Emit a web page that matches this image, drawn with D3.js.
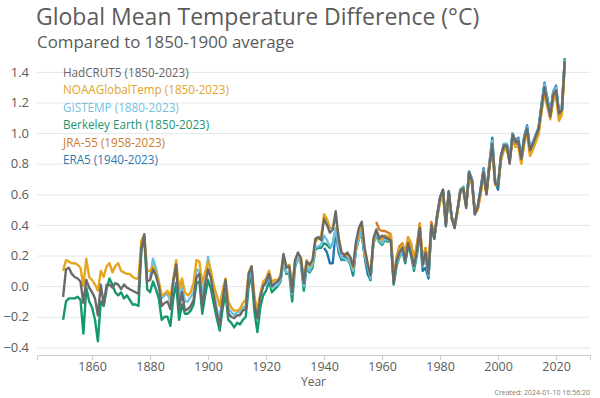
<!DOCTYPE html>
<html>
<head>
<meta charset="utf-8">
<script src="https://cdn.jsdelivr.net/npm/d3@7"></script>
<style>
  body { margin: 0; background: #fff; }
  text { font-family: "Open Sans", sans-serif; }
</style>
</head>
<body>
<div id="chart"></div>
<script>
// annual anomalies vs 1850-1900, degrees C
const hadcrut5Start = 1850;
const hadcrut5 = [
  -0.07, 0.11, 0.12, 0.08, 0.06, 0.05, 0.03, -0.11, 0.04, -0.01,
  -0.04, -0.08, -0.19, 0.01, -0.12, 0.01, 0.01, -0.01, 0.02, 0.01,
  -0.02, 0.01, -0.01, -0.02, -0.03, -0.04, -0.05, 0.25, 0.34, 0.03,
  0.04, 0.11, 0.07, 0.00, -0.13, -0.11, -0.10, -0.15, 0.03, 0.14,
  -0.15, -0.04, -0.16, -0.15, -0.13, -0.09, 0.06, 0.08, -0.14, 0.01,
  0.11, 0.05, -0.07, -0.18, -0.25, -0.10, 0.04, -0.18, -0.20, -0.21,
  -0.19, -0.19, -0.16, -0.15, 0.08, 0.13, -0.12, -0.21, -0.07, 0.00,
  0.03, 0.08, 0.00, 0.02, 0.03, 0.06, 0.21, 0.12, 0.13, -0.04,
  0.17, 0.22, 0.18, 0.02, 0.16, 0.14, 0.17, 0.31, 0.32, 0.30,
  0.44, 0.40, 0.35, 0.37, 0.49, 0.31, 0.22, 0.20, 0.22, 0.19,
  0.13, 0.29, 0.38, 0.42, 0.25, 0.15, 0.07, 0.31, 0.37, 0.31,
  0.33, 0.32, 0.31, 0.30, 0.02, 0.16, 0.22, 0.25, 0.17, 0.28,
  0.21, 0.13, 0.23, 0.38, 0.14, 0.22, 0.08, 0.40, 0.31, 0.46,
  0.58, 0.63, 0.39, 0.62, 0.45, 0.38, 0.50, 0.62, 0.64, 0.51,
  0.74, 0.69, 0.47, 0.52, 0.63, 0.75, 0.60, 0.78, 0.93, 0.67,
  0.66, 0.85, 0.92, 0.92, 0.80, 0.99, 0.94, 0.95, 0.83, 0.96,
  1.03, 0.89, 0.93, 0.98, 1.03, 1.17, 1.30, 1.20, 1.11, 1.25,
  1.28, 1.13, 1.15, 1.47
];

const noaaStart = 1850;
const noaa = [
  0.10, 0.17, 0.16, 0.15, 0.15, 0.14, 0.12, 0.00, 0.18, 0.06,
  0.04, 0.01, -0.03, 0.10, 0.06, 0.13, 0.15, 0.09, 0.13, 0.15,
  0.10, 0.09, 0.08, 0.08, 0.06, 0.05, 0.05, 0.30, 0.33, 0.10,
  0.10, 0.13, 0.09, 0.03, -0.06, -0.05, -0.03, -0.07, 0.05, 0.17,
  -0.02, 0.05, -0.04, -0.06, -0.04, 0.02, 0.17, 0.16, 0.02, 0.09,
  0.16, 0.10, 0.00, -0.06, -0.13, -0.03, 0.05, -0.10, -0.14, -0.16,
  -0.16, -0.15, -0.11, -0.09, 0.09, 0.13, -0.07, -0.16, -0.05, 0.03,
  0.05, 0.10, 0.03, 0.04, 0.04, 0.07, 0.20, 0.13, 0.14, 0.00,
  0.17, 0.21, 0.19, 0.05, 0.17, 0.13, 0.16, 0.29, 0.31, 0.33,
  0.47, 0.44, 0.38, 0.38, 0.45, 0.33, 0.22, 0.21, 0.20, 0.19,
  0.12, 0.27, 0.35, 0.40, 0.22, 0.15, 0.08, 0.29, 0.36, 0.32,
  0.30, 0.33, 0.32, 0.34, 0.05, 0.17, 0.24, 0.27, 0.20, 0.32,
  0.27, 0.16, 0.26, 0.40, 0.18, 0.24, 0.12, 0.40, 0.33, 0.45,
  0.55, 0.60, 0.42, 0.60, 0.44, 0.40, 0.48, 0.62, 0.64, 0.53,
  0.71, 0.67, 0.48, 0.50, 0.60, 0.72, 0.60, 0.79, 0.90, 0.66,
  0.66, 0.82, 0.89, 0.89, 0.83, 0.95, 0.91, 0.91, 0.80, 0.93,
  1.00, 0.85, 0.89, 0.94, 0.99, 1.14, 1.26, 1.17, 1.09, 1.21,
  1.24, 1.08, 1.12, 1.44
];

const gistempStart = 1880;
const gistemp = [
  0.05, 0.18, 0.12, 0.03, -0.08, -0.06, -0.05, -0.10, 0.02, 0.12,
  -0.09, 0.01, -0.10, -0.10, -0.07, -0.04, 0.11, 0.10, -0.05, 0.05,
  0.19, 0.08, -0.03, -0.15, -0.21, -0.08, 0.01, -0.15, -0.17, -0.19,
  -0.17, -0.17, -0.14, -0.13, 0.05, 0.10, -0.10, -0.18, -0.07, 0.00,
  0.01, 0.07, -0.01, 0.00, 0.01, 0.04, 0.17, 0.09, 0.09, -0.05,
  0.14, 0.18, 0.15, 0.00, 0.13, 0.10, 0.14, 0.25, 0.26, 0.27,
  0.33, 0.30, 0.26, 0.27, 0.38, 0.25, 0.19, 0.18, 0.17, 0.16,
  0.10, 0.24, 0.31, 0.36, 0.20, 0.13, 0.05, 0.28, 0.34, 0.30,
  0.28, 0.31, 0.30, 0.31, 0.03, 0.14, 0.20, 0.23, 0.17, 0.28,
  0.23, 0.12, 0.22, 0.37, 0.13, 0.19, 0.07, 0.39, 0.31, 0.45,
  0.57, 0.62, 0.40, 0.60, 0.44, 0.39, 0.50, 0.62, 0.65, 0.53,
  0.74, 0.70, 0.47, 0.51, 0.62, 0.76, 0.61, 0.80, 0.95, 0.68,
  0.67, 0.85, 0.93, 0.93, 0.84, 1.00, 0.94, 0.96, 0.83, 0.97,
  1.04, 0.90, 0.94, 0.99, 1.04, 1.18, 1.32, 1.22, 1.12, 1.26,
  1.30, 1.13, 1.17, 1.48
];

const berkeleyStart = 1850;
const berkeley = [
  -0.22, -0.10, -0.08, -0.08, -0.08, -0.07, -0.09, -0.31, -0.01, -0.10,
  -0.14, -0.22, -0.36, -0.10, -0.13, -0.02, 0.05, 0.01, -0.04, -0.06,
  -0.04, -0.08, -0.06, -0.09, -0.12, -0.12, -0.13, 0.24, 0.31, -0.02,
  -0.04, 0.03, -0.02, -0.08, -0.22, -0.20, -0.20, -0.26, -0.08, 0.02,
  -0.22, -0.12, -0.18, -0.18, -0.16, -0.12, 0.02, 0.03, -0.18, -0.06,
  0.04, -0.02, -0.12, -0.21, -0.29, -0.15, -0.05, -0.22, -0.24, -0.27,
  -0.24, -0.25, -0.22, -0.20, 0.00, 0.06, -0.17, -0.30, -0.14, -0.06,
  -0.03, 0.03, -0.04, -0.02, 0.00, 0.03, 0.16, 0.08, 0.08, -0.10,
  0.13, 0.18, 0.15, -0.03, 0.12, 0.09, 0.12, 0.24, 0.25, 0.25,
  0.28, 0.27, 0.25, 0.28, 0.37, 0.26, 0.18, 0.17, 0.18, 0.15,
  0.08, 0.24, 0.32, 0.36, 0.20, 0.12, 0.04, 0.28, 0.33, 0.29,
  0.27, 0.30, 0.29, 0.31, 0.01, 0.13, 0.19, 0.23, 0.15, 0.27,
  0.20, 0.10, 0.20, 0.36, 0.13, 0.20, 0.07, 0.38, 0.31, 0.45,
  0.57, 0.62, 0.41, 0.61, 0.45, 0.40, 0.50, 0.63, 0.65, 0.53,
  0.74, 0.69, 0.48, 0.52, 0.63, 0.75, 0.61, 0.79, 0.93, 0.68,
  0.67, 0.85, 0.92, 0.92, 0.83, 0.99, 0.94, 0.95, 0.83, 0.96,
  1.03, 0.89, 0.93, 0.98, 1.04, 1.18, 1.31, 1.21, 1.12, 1.26,
  1.29, 1.13, 1.16, 1.49
];

const jra55Start = 1958;
const jra55 = [
  0.42, 0.37,
  0.36, 0.36, 0.35, 0.34, 0.06, 0.19, 0.26, 0.28, 0.22, 0.32,
  0.28, 0.17, 0.27, 0.41, 0.17, 0.25, 0.12, 0.42, 0.33, 0.46,
  0.57, 0.61, 0.42, 0.61, 0.44, 0.40, 0.49, 0.62, 0.63, 0.52,
  0.71, 0.67, 0.47, 0.50, 0.61, 0.73, 0.60, 0.78, 0.92, 0.67,
  0.66, 0.83, 0.90, 0.91, 0.81, 0.97, 0.93, 0.93, 0.81, 0.94,
  1.02, 0.87, 0.91, 0.96, 1.01, 1.15, 1.28, 1.19, 1.10, 1.23,
  1.26, 1.10, 1.13, 1.46
];

const era5Start = 1940;
const era5 = [
  0.25, 0.22, 0.15, 0.15, 0.37, 0.22, 0.17, 0.20, 0.17, 0.15,
  0.07, 0.24, 0.31, 0.34, 0.19, 0.08, 0.04, 0.29, 0.36, 0.32,
  0.30, 0.33, 0.32, 0.31, 0.03, 0.15, 0.21, 0.24, 0.16, 0.28,
  0.22, 0.13, 0.22, 0.36, 0.10, 0.12, 0.05, 0.38, 0.32, 0.47,
  0.58, 0.63, 0.40, 0.62, 0.45, 0.38, 0.49, 0.63, 0.64, 0.53,
  0.75, 0.70, 0.47, 0.52, 0.64, 0.77, 0.61, 0.80, 0.97, 0.68,
  0.63, 0.84, 0.93, 0.93, 0.82, 1.00, 0.95, 0.97, 0.83, 0.98,
  1.05, 0.90, 0.94, 0.99, 1.03, 1.19, 1.33, 1.23, 1.12, 1.27,
  1.31, 1.13, 1.16, 1.48
];

const yTicks = [-0.4, -0.2, 0.0, 0.2, 0.4, 0.6, 0.8, 1.0, 1.2, 1.4];
const xTicks = [1860, 1880, 1900, 1920, 1940, 1960, 1980, 2000, 2020];

// legend order top to bottom
const series = [
  { name: "HadCRUT5 (1850-2023)", start: hadcrut5Start, values: hadcrut5, color: "#6a6a6a", text: "#666666" },
  { name: "NOAAGlobalTemp (1850-2023)", start: noaaStart, values: noaa, color: "#e5a51c", text: "#e0a52a" },
  { name: "GISTEMP (1880-2023)", start: gistempStart, values: gistemp, color: "#6cc1e2", text: "#74c1de" },
  { name: "Berkeley Earth (1850-2023)", start: berkeleyStart, values: berkeley, color: "#14996f", text: "#1d9470" },
  { name: "JRA-55 (1958-2023)", start: jra55Start, values: jra55, color: "#d57a26", text: "#d07a2c" },
  { name: "ERA5 (1940-2023)", start: era5Start, values: era5, color: "#1f78b4", text: "#2b79b0" }
];

const width = 600, height = 398;
const m = { left: 37, right: 590, top: 56.6, bottom: 355 };

const svg = d3.select("#chart").append("svg")
  .attr("width", width)
  .attr("height", height);

const x = d3.scaleLinear().domain([1841, 2031.7]).range([m.left, m.right]);
const y = d3.scaleLinear().domain([-0.45, 1.5]).range([m.bottom, m.top]);

// title
svg.append("text")
  .attr("x", 36).attr("y", 24.7)
  .attr("font-size", 23)
  .attr("fill", "#5b5b5b")
  .text("Global Mean Temperature Difference (°C)");

svg.append("text")
  .attr("x", 37).attr("y", 48)
  .attr("font-size", 16.9)
  .attr("fill", "#5b5b5b")
  .text("Compared to 1850-1900 average");

// gridlines + y labels
const yAxis = svg.append("g")
  .attr("transform", "translate(" + m.left + ",0)")
  .call(d3.axisLeft(y).tickValues(yTicks).tickSize(-(m.right - m.left)).tickPadding(8).tickFormat(d3.format(".1f")));
yAxis.select(".domain").remove();
yAxis.selectAll(".tick line").attr("stroke", "#e6e6e6");
yAxis.selectAll(".tick text")
  .attr("font-size", 13)
  .attr("font-family", "Open Sans, sans-serif")
  .attr("fill", "#5b5b5b");

// x axis
const xAxis = svg.append("g")
  .attr("transform", "translate(0," + m.bottom + ")")
  .call(d3.axisBottom(x).tickValues(xTicks).tickSize(5).tickPadding(2).tickFormat(d3.format("d")));
xAxis.select(".domain").attr("stroke", "#cccccc");
xAxis.selectAll(".tick line").attr("stroke", "#cccccc");
xAxis.selectAll(".tick text")
  .attr("font-size", 12.5)
  .attr("font-family", "Open Sans, sans-serif")
  .attr("fill", "#5b5b5b");

svg.append("text")
  .attr("x", (m.left + m.right) / 2).attr("y", 386)
  .attr("text-anchor", "middle")
  .attr("font-size", 12)
  .attr("fill", "#5b5b5b")
  .text("Year");

svg.append("text")
  .attr("x", 590).attr("y", 395)
  .attr("text-anchor", "end")
  .attr("font-size", 7)
  .attr("fill", "#7a7a7a")
  .text("Created: 2024-01-10 16:56:20");

// lines, HadCRUT5 drawn last
const line = d3.line()
  .x(d => x(d[0]))
  .y(d => y(d[1]));

const drawOrder = [4, 5, 3, 2, 1, 0];
drawOrder.forEach(function (i) {
  const s = series[i];
  const pts = s.values.map((v, k) => [s.start + k, v]);
  svg.append("path")
    .datum(pts)
    .attr("fill", "none")
    .attr("stroke", s.color)
    .attr("stroke-width", 2.4)
    .attr("stroke-linejoin", "round")
    .attr("d", line);
});

// legend
svg.selectAll(".legend")
  .data(series)
  .enter()
  .append("text")
  .attr("class", "legend")
  .attr("x", 63)
  .attr("y", (d, i) => 77 + i * 17.4)
  .attr("font-size", 11.7)
  .attr("fill", d => d.text)
  .text(d => d.name);
</script>
</body>
</html>
